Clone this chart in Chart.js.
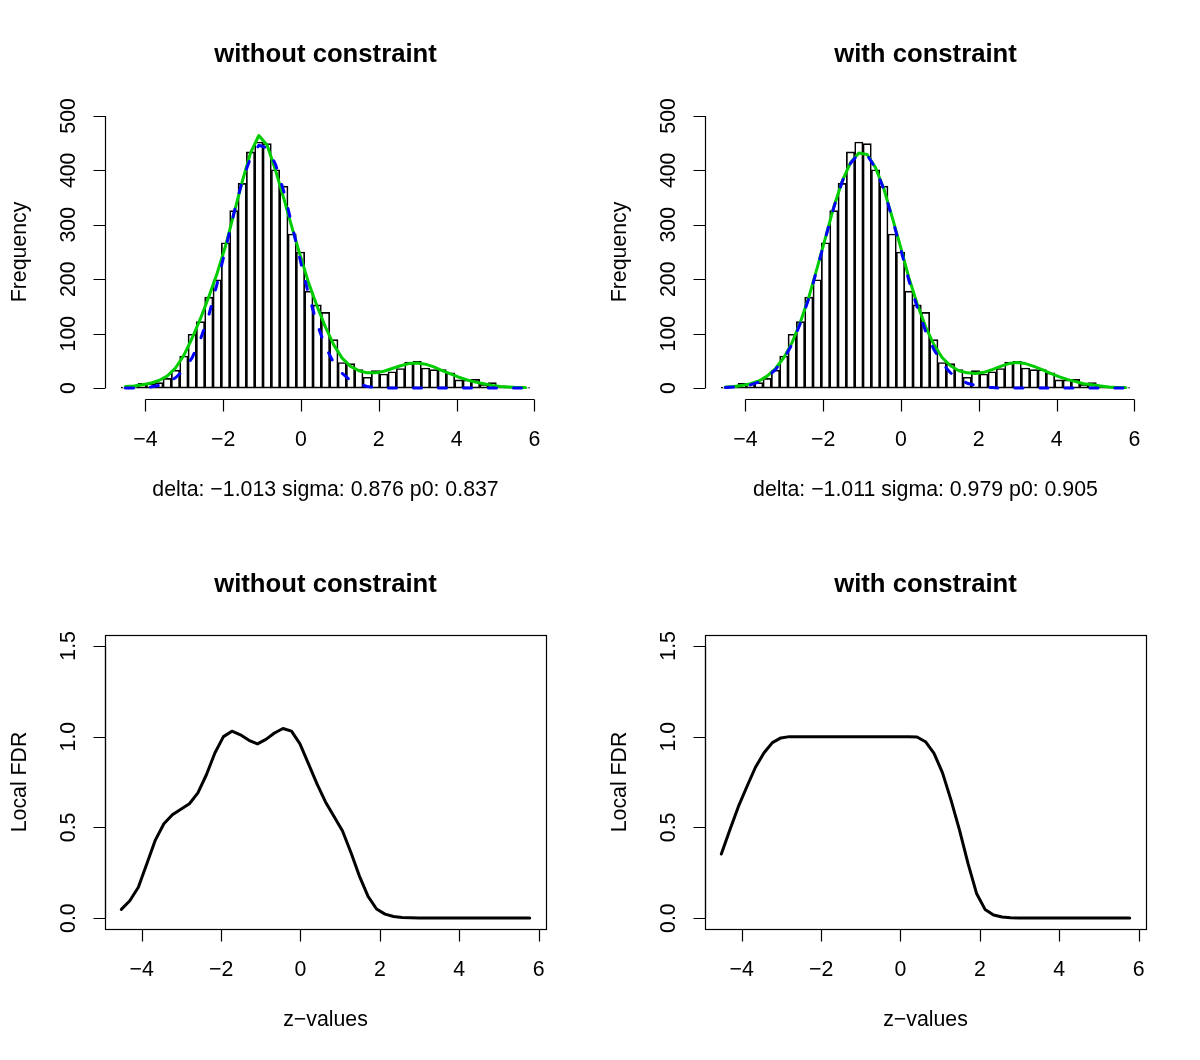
<!DOCTYPE html>
<html>
<head>
<meta charset="utf-8">
<script src="https://cdn.jsdelivr.net/npm/chart.js"></script>
<style>
  html, body { margin: 0; padding: 0; background: #ffffff; }
  #wrap { position: relative; width: 1200px; height: 1060px; background: #ffffff; }
  #wrap canvas { position: absolute; }
</style>
</head>
<body>
<div id="wrap">
  <canvas id="histFree" width="600" height="530" style="left:0px;top:0px"></canvas>
  <canvas id="histConstr" width="600" height="530" style="left:600px;top:0px"></canvas>
  <canvas id="fdrFree" width="600" height="530" style="left:0px;top:530px"></canvas>
  <canvas id="fdrConstr" width="600" height="530" style="left:600px;top:530px"></canvas>
</div>
<script>
//----------------------------------------------------------------------------
// data
//----------------------------------------------------------------------------
// histogram bin midpoints (z-values)
const zMids = [-4.513, -4.299, -4.084, -3.870, -3.656, -3.441, -3.227, -3.013, -2.798, -2.584,
  -2.370, -2.156, -1.941, -1.727, -1.513, -1.298, -1.084, -0.870, -0.655, -0.441,
  -0.227, -0.013, 0.202, 0.416, 0.630, 0.845, 1.059, 1.273, 1.487, 1.702,
  1.916, 2.130, 2.345, 2.559, 2.773, 2.988, 3.202, 3.416, 3.630, 3.845,
  4.059, 4.273, 4.488, 4.702, 4.916, 5.130, 5.345, 5.559, 5.773];

// histogram counts (same data in both top panels)
const counts = [2, 3, 9, 8, 10, 18, 33, 59, 99, 122,
  167, 199, 267, 326, 376, 434, 452, 449, 401, 371,
  283, 250, 178, 153, 139, 89, 47, 45, 34, 20,
  32, 26, 30, 36, 48, 49, 37, 34, 34, 28,
  15, 15, 16, 7, 10, 4, 3, 1, 1];

// fitted mixture (green) and null (blue dashed), without constraint
const fitFree = [3, 4, 6, 9, 14, 22, 37, 60, 92, 128,
  168, 211, 261, 320, 379, 432, 464, 446, 400, 348,
  294, 242, 192, 150, 112, 79, 55, 40, 32, 28,
  28, 31, 36, 41, 45, 46, 44, 39, 32, 26,
  20, 15, 11, 8, 5, 3, 2, 1, 1];
const nullFree = [0, 0, 1, 2, 5, 10, 19, 33, 56, 90,
  134, 192, 255, 321, 380, 423, 446, 441, 411, 361,
  298, 233, 170, 117, 76, 46, 27, 14, 7, 3,
  1, 0, 0, 0, 0, 0, 0, 0, 0, 0,
  0, 0, 0, 0, 0, 0, 0, 0, 0];

// fitted mixture (green) and null (blue dashed), with constraint
const fitConstr = [2, 3, 5, 8, 13, 22, 36, 56, 84, 122,
  167, 221, 277, 333, 380, 414, 432, 429, 405, 366,
  314, 260, 203, 155, 113, 80, 56, 41, 32, 28,
  27, 29, 34, 40, 45, 47, 45, 40, 34, 27,
  21, 16, 12, 8, 6, 4, 2, 1, 1];
const nullConstr = [1, 2, 3, 6, 11, 20, 34, 54, 81, 120,
  165, 219, 276, 332, 379, 413, 431, 428, 404, 365,
  312, 257, 198, 149, 105, 71, 46, 28, 17, 9,
  5, 2, 1, 0, 0, 0, 0, 0, 0, 0,
  0, 0, 0, 0, 0, 0, 0, 0, 0];

// local FDR curves
const fdrFree = [0.048, 0.096, 0.17, 0.30, 0.43, 0.52, 0.57, 0.60, 0.63, 0.69,
  0.79, 0.91, 1.00, 1.03, 1.01, 0.98, 0.96, 0.985, 1.02, 1.045,
  1.03, 0.96, 0.85, 0.74, 0.64, 0.56, 0.48, 0.36, 0.23, 0.12,
  0.05, 0.022, 0.009, 0.004, 0.002, 0.001, 0, 0, 0, 0,
  0, 0, 0, 0, 0, 0, 0, 0, 0];
const fdrConstr = [0.353, 0.485, 0.614, 0.724, 0.83, 0.91, 0.967, 0.993, 1.0, 1.0,
  1.0, 1.0, 1.0, 1.0, 1.0, 1.0, 1.0, 1.0, 1.0, 1.0,
  1.0, 1.0, 1.0, 0.998, 0.972, 0.908, 0.80, 0.65, 0.485, 0.30,
  0.136, 0.048, 0.017, 0.006, 0.002, 0, 0, 0, 0, 0,
  0, 0, 0, 0, 0, 0, 0, 0, 0];

// ticks and labels
const xTicks = [-4, -2, 0, 2, 4, 6];
const xTickLabels = ["\u22124", "\u22122", "0", "2", "4", "6"];
const histYTicks = [0, 100, 200, 300, 400, 500];
const histYLabels = ["0", "100", "200", "300", "400", "500"];
const fdrYTicks = [0, 0.5, 1, 1.5];
const fdrYLabels = ["0.0", "0.5", "1.0", "1.5"];

const titleFree = "without constraint";
const titleConstr = "with constraint";
const subFree = "delta: \u22121.013 sigma: 0.876 p0: 0.837";
const subConstr = "delta: \u22121.011 sigma: 0.979 p0: 0.905";

//----------------------------------------------------------------------------
// R-style axes, titles and labels
//----------------------------------------------------------------------------
const FONT = "'Liberation Sans', Arial, Helvetica, sans-serif";

const rAxes = {
  id: "rAxes",
  afterDraw(chart, args, o) {
    const ctx = chart.ctx;
    const a = chart.chartArea;
    const xs = chart.scales.x;
    const ys = chart.scales.y;
    ctx.save();
    ctx.strokeStyle = "#000";
    ctx.fillStyle = "#000";
    ctx.lineWidth = 1.2;

    // box round the plot region
    if (o.box) {
      ctx.strokeRect(a.left + 0.5, a.top + 0.5, a.right - a.left, a.bottom - a.top);
    }

    // x axis
    const yAx = a.bottom + 0.5;
    ctx.beginPath();
    ctx.moveTo(xs.getPixelForValue(o.xTicks[0]), yAx);
    ctx.lineTo(xs.getPixelForValue(o.xTicks[o.xTicks.length - 1]), yAx);
    o.xTicks.forEach(t => {
      const px = Math.round(xs.getPixelForValue(t)) + 0.5;
      ctx.moveTo(px, yAx);
      ctx.lineTo(px, yAx + 12);
    });
    // y axis
    const xAx = a.left + 0.5;
    ctx.moveTo(xAx, ys.getPixelForValue(o.yTicks[0]));
    ctx.lineTo(xAx, ys.getPixelForValue(o.yTicks[o.yTicks.length - 1]));
    o.yTicks.forEach(t => {
      const py = Math.round(ys.getPixelForValue(t)) + 0.5;
      ctx.moveTo(xAx, py);
      ctx.lineTo(xAx - 12, py);
    });
    ctx.stroke();

    // tick labels
    ctx.font = "21.3px " + FONT;
    ctx.textAlign = "center";
    ctx.textBaseline = "alphabetic";
    o.xTicks.forEach((t, i) => {
      ctx.fillText(o.xLabels[i], xs.getPixelForValue(t), 446);
    });
    o.yTicks.forEach((t, i) => {
      ctx.save();
      ctx.translate(75, ys.getPixelForValue(t));
      ctx.rotate(-Math.PI / 2);
      ctx.fillText(o.yLabels[i], 0, 0);
      ctx.restore();
    });

    const cx = (a.left + a.right) / 2;
    const cy = (a.top + a.bottom) / 2;
    // x title / subtitle
    ctx.fillText(o.xTitle, cx, 496);
    // y title
    ctx.save();
    ctx.translate(26, cy);
    ctx.rotate(-Math.PI / 2);
    ctx.fillText(o.yTitle, 0, 0);
    ctx.restore();
    // main title
    ctx.font = "bold 25.7px " + FONT;
    ctx.fillText(o.title, cx, 62);
    ctx.restore();
  }
};

function pts(ys) {
  return zMids.map((z, i) => ({ x: z, y: ys[i] }));
}

const baseOptions = {
  responsive: false,
  animation: false,
  events: [],
  layout: { padding: { left: 105, right: 54, top: 105, bottom: 131 } },
  plugins: { legend: { display: false }, tooltip: { enabled: false } }
};

function histChart(id, fit, nul, title, sub) {
  return new Chart(document.getElementById(id), {
    type: "bar",
    data: {
      datasets: [
        {
          type: "bar",
          data: pts(counts),
          backgroundColor: "rgba(255,255,255,0)",
          borderColor: "#000000",
          borderWidth: 1,
          borderSkipped: false,
          barPercentage: 1.0,
          categoryPercentage: 1.0,
          order: 3
        },
        {
          type: "line",
          data: pts(fit),
          borderColor: "#00CD00",
          borderWidth: 3,
          pointRadius: 0,
          tension: 0,
          fill: false,
          borderJoinStyle: "round",
          borderCapStyle: "round",
          order: 2
        },
        {
          type: "line",
          data: pts(nul),
          borderColor: "#0000FF",
          borderWidth: 3,
          borderDash: [8, 17],
          pointRadius: 0,
          tension: 0,
          fill: false,
          borderJoinStyle: "round",
          borderCapStyle: "round",
          order: 1
        }
      ]
    },
    options: Object.assign({}, baseOptions, {
      scales: {
        x: { type: "linear", min: -5.04, max: 6.30, offset: false, display: false },
        y: { type: "linear", min: -20, max: 520, display: false }
      },
      plugins: Object.assign({}, baseOptions.plugins, {
        rAxes: {
          box: false, xTicks: xTicks, xLabels: xTickLabels,
          yTicks: histYTicks, yLabels: histYLabels,
          title: title, xTitle: sub, yTitle: "Frequency"
        }
      })
    }),
    plugins: [rAxes]
  });
}

function fdrChart(id, fdr, title) {
  return new Chart(document.getElementById(id), {
    type: "line",
    data: {
      datasets: [{
        data: pts(fdr),
        borderColor: "#000000",
        borderWidth: 3,
        pointRadius: 0,
        tension: 0,
        fill: false,
        borderJoinStyle: "round",
        borderCapStyle: "round"
      }]
    },
    options: Object.assign({}, baseOptions, {
      scales: {
        x: { type: "linear", min: -4.924, max: 6.184, display: false },
        y: { type: "linear", min: -0.06, max: 1.56, display: false }
      },
      plugins: Object.assign({}, baseOptions.plugins, {
        rAxes: {
          box: true, xTicks: xTicks, xLabels: xTickLabels,
          yTicks: fdrYTicks, yLabels: fdrYLabels,
          title: title, xTitle: "z\u2212values", yTitle: "Local FDR"
        }
      })
    }),
    plugins: [rAxes]
  });
}

histChart("histFree", fitFree, nullFree, titleFree, subFree);
histChart("histConstr", fitConstr, nullConstr, titleConstr, subConstr);
fdrChart("fdrFree", fdrFree, titleFree);
fdrChart("fdrConstr", fdrConstr, titleConstr);
</script>
</body>
</html>
